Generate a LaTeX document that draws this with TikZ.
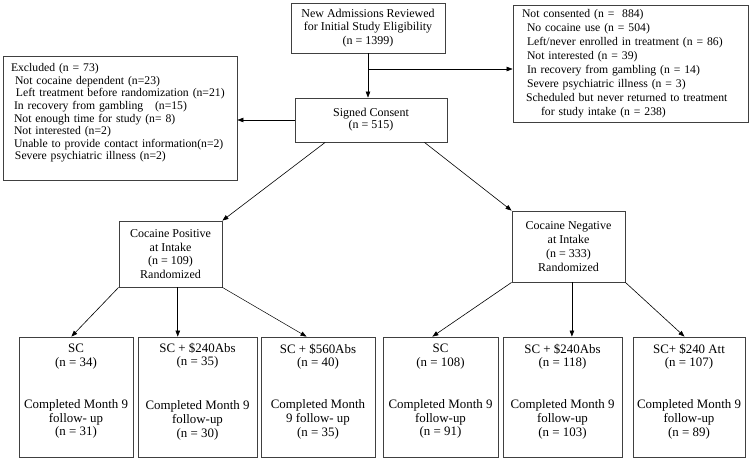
\documentclass[tikz,border=0pt]{standalone}
\usepackage{fontspec}
\setmainfont{Liberation Serif}
\usetikzlibrary{arrows.meta,calc}

\begin{document}
\begin{tikzpicture}[x=1pt,y=-1pt,
  box/.style={draw=black!75,line width=0.8pt,inner sep=0pt,align=center,
    font=\fontsize{12}{13.8}\selectfont},
  armbox/.style={box,minimum width=#1,minimum height=120,
    font=\fontsize{12.9}{13.8}\selectfont},
  sidebox/.style={draw=black!75,line width=0.8pt,inner ysep=0pt,align=left,
    font=\fontsize{11.7}{13}\selectfont},
  arr/.style={line width=0.6pt,-{Triangle[length=6pt,width=4.5pt]}}]
\useasboundingbox (0,0) rectangle (750,459);
% screening
\node[box,minimum width=154,minimum height=50] (adm) at (368,28)
  {New Admissions Reviewed\\for Initial Study Eligibility\\(n = 1399)};
\node[sidebox,inner xsep=9pt,text width=217,minimum height=117,
  font=\fontsize{11.7}{14}\selectfont] (notc) at (630.5,63.5)
  {Not consented (n = \ 884)\\
   \hspace*{5pt}No cocaine use (n = 504)\\
   \hspace*{5pt}Left/never enrolled in treatment (n = 86)\\
   \hspace*{5pt}Not interested (n = 39)\\
   \hspace*{5pt}In recovery from gambling (n = 14)\\
   \hspace*{5pt}Severe psychiatric illness (n = 3)\\
   \hspace*{4pt}Scheduled but never returned to treatment\\
   \hspace*{19pt}for study intake (n = 238)};
\node[box,minimum width=152,minimum height=44,
  font=\fontsize{12}{12}\selectfont] (sc) at (371,120)
  {Signed Consent\\(n = 515)};
\node[sidebox,inner xsep=8pt,text width=218,minimum height=124,
  font=\fontsize{11.7}{12.6}\selectfont] (excl) at (120,118)
  {Excluded (n = 73)\\
   \hspace*{4pt}Not cocaine dependent (n=23)\\
   \hspace*{5pt}Left treatment before randomization (n=21)\\
   \hspace*{3pt}In recovery from gambling \ \ (n=15)\\
   \hspace*{3pt}Not enough time for study (n= 8)\\
   \hspace*{3pt}Not interested (n=2)\\
   \hspace*{3pt}Unable to provide contact information(n=2)\\
   \hspace*{4pt}Severe psychiatric illness (n=2)\\\mbox{}};
% randomization strata
\node[box,minimum width=103,minimum height=66] (pos) at (170.5,254)
  {Cocaine Positive\\at Intake\\(n = 109)\\Randomized};
\node[box,minimum width=113,minimum height=71] (neg) at (568.5,246.5)
  {Cocaine Negative\\at Intake\\(n = 333)\\Randomized};
% treatment arms
\node[armbox=114] (b1) at (76,397)
  {SC\\(n = 34)\\[28pt]Completed Month 9\\follow- up\\(n = 31)\\\mbox{}};
\node[armbox=119] (b2) at (197.5,397)
  {SC + \$240Abs\\(n = 35)\\[30pt]Completed Month 9\\follow-up\\(n = 30)\\\mbox{}};
\node[armbox=114] (b3) at (318,397)
  {SC + \$560Abs\\(n = 40)\\[28pt]Completed Month\\9 follow- up\\(n = 35)\\\mbox{}};
\node[armbox=115] (b4) at (440.5,397)
  {SC\\(n = 108)\\[28pt]Completed Month 9\\follow-up\\(n = 91)\\\mbox{}};
\node[armbox=119] (b5) at (562.5,397)
  {SC + \$240Abs\\(n = 118)\\[28pt]Completed Month 9\\follow-up\\(n = 103)\\\mbox{}};
\node[armbox=112] (b6) at (689,397)
  {SC+ \$240 Att\\(n = 107)\\[28pt]Completed Month 9\\follow-up\\(n = 89)\\\mbox{}};
% connectors
\coordinate (split) at (368,69);
\draw[arr] (adm.south) -- (adm.south |- sc.north);
\draw[arr] (split) -- (split -| notc.west);
\draw[arr] (sc.west) -- (sc.west -| excl.east);
\draw[arr] ($(sc.south west)!0.2!(sc.south east)$) -- (pos.north east);
\draw[arr] ($(sc.south west)!0.85!(sc.south east)$) -- (neg.north west);
\draw[arr] (pos.south west) -- ($(b1.north west)!0.46!(b1.north east)$);
\coordinate (pm) at ($(pos.south west)!0.57!(pos.south east)$);
\draw[arr] (pm) -- (pm |- b2.north);
\draw[arr,line width=0.5pt] (pos.south east) -- ($(b3.north west)!0.4!(b3.north east)$);
\draw[arr] (neg.south west) -- ($(b4.north west)!0.43!(b4.north east)$);
\coordinate (nm) at ($(neg.south west)!0.53!(neg.south east)$);
\draw[arr] (nm) -- (nm |- b5.north);
\draw[arr] (neg.south east) -- ($(b6.north west)!0.46!(b6.north east)$);
\end{tikzpicture}
\end{document}
